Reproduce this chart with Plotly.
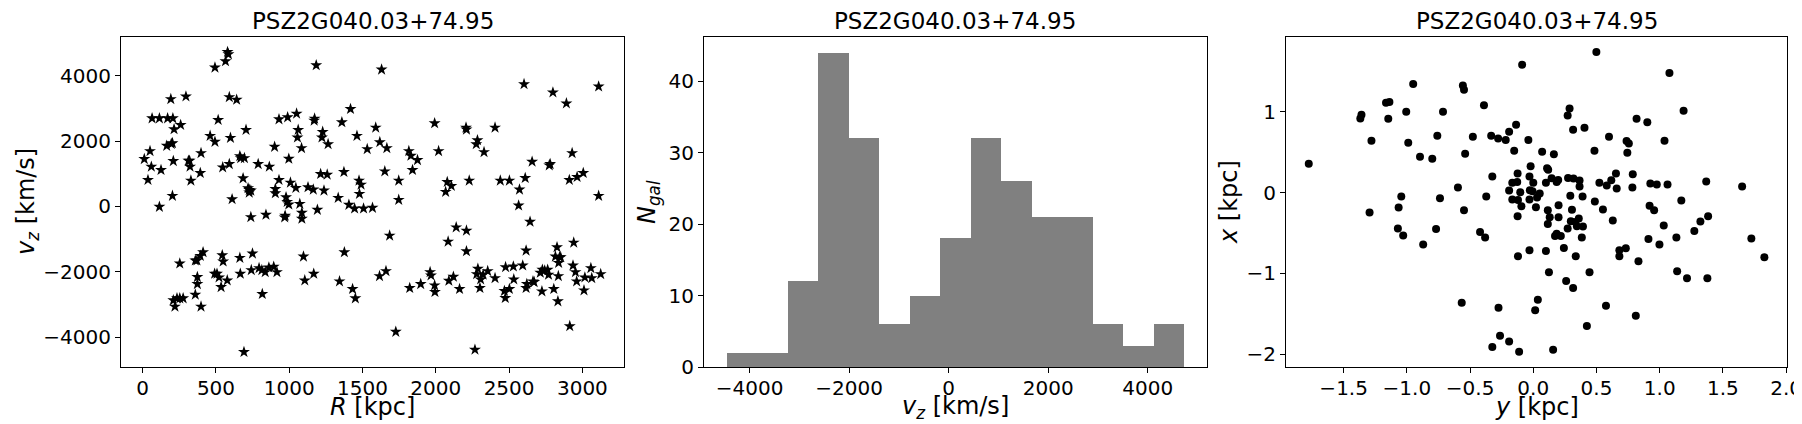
import plotly.graph_objects as go

# panel 1: radial distance vs line-of-sight velocity
R_kpc = [
    11, 36, 50, 59, 64, 114, 114, 125, 164, 170,
    192, 195, 203, 203, 206, 209, 214, 209, 220, 234,
    253, 253, 259, 276, 295, 312, 320, 323, 329, 359,
    359, 370, 373, 373, 393, 398, 393, 398, 412, 460,
    491, 493, 493, 507, 515, 521, 535, 543, 546, 549,
    565, 577, 579, 585, 591, 591, 599, 610, 641, 663,
    663, 666, 669, 685, 694, 691, 705, 719, 727, 727,
    738, 738, 749, 741, 788, 794, 813, 816, 836, 841,
    864, 861, 894, 900, 905, 905, 916, 930, 930, 969,
    972, 978, 986, 989, 997, 997, 1008, 1045, 1050, 1056,
    1061, 1072, 1084, 1086, 1086, 1097, 1106, 1128, 1164, 1167,
    1170, 1173, 1184, 1192, 1214, 1223, 1228, 1237, 1259, 1265,
    1334, 1343, 1359, 1373, 1376, 1407, 1418, 1432, 1446, 1451,
    1462, 1476, 1479, 1490, 1507, 1532, 1568, 1590, 1616, 1618,
    1630, 1652, 1660, 1666, 1685, 1727, 1747, 1747, 1816, 1822,
    1830, 1841, 1875, 1897, 1961, 1967, 1992, 1992, 1994, 2019,
    2067, 2078, 2084, 2089, 2106, 2120, 2139, 2162, 2206, 2209,
    2209, 2209, 2228, 2267, 2276, 2279, 2284, 2287, 2301, 2306,
    2323, 2329, 2354, 2404, 2404, 2440, 2468, 2476, 2474, 2502,
    2502, 2529, 2532, 2571, 2565, 2593, 2602, 2610, 2616, 2616,
    2621, 2643, 2657, 2663, 2671, 2713, 2724, 2727, 2743, 2763,
    2769, 2774, 2780, 2799, 2805, 2816, 2827, 2833, 2836, 2844,
    2838, 2852, 2891, 2911, 2914, 2930, 2936, 2941, 2953, 2961,
    2964, 3006, 3011, 3017, 3058, 3064, 3111, 3111, 3125,
]
vz_kms = [
    1452, 812, 1695, 1218, 2700, 2700, -10, 1117, 1858, 2700,
    3289, 1919, 1939, 325, 2700, 1391, 2365, -2873, -3066, -2812,
    -1746, -2812, 2497, -2812, 3370, 1401, 1401, 1218, 792, -1655,
    -2700, -1655, -2162, -2376, -1513, 1634, 1025, -3066, -1401, 2162,
    -2061, 4254, 1980, -2061, 2650, -2173, -2467, -1492, 1198, -1685,
    4447, -2264, 4731, 4660, 3350, 1299, 2101, 223, 3269, 1543,
    -1574, -2061, 1482, 863, 1482, -4457, 2345, 558, 508, 426,
    487, -325, -1442, -1949, 1299, -1888, -1949, -2680, -2010, -254,
    1218, -1868, -1848, 1827, 538, 406, -2010, 812, 2670, -335,
    -284, 284, 142, 2731, 1462, 61, 731, 569, 2843, 2112,
    2345, 81, 1787, -193, -376, -1533, -2264, 589, 518, -2061,
    2629, 2690, 4325, -102, 995, 2112, 2284, 487, 975, 1909,
    264, -2294, 2579, 1056, -1401, 51, 2985, -2528, -61, -2812,
    2162, 792, 386, 670, -61, 1756, -41, 2416, -2132, 1970,
    4193, 1076, -1980, 1787, -893, -3838, 792, 203, 1695, -2497,
    1553, 1117, 1421, -2376, -2010, -2112, 2548, -2416, -2619, 1695,
    447, 751, -1076, -2274, 629, -2152, -640, -2528, 2416, 2355,
    -741, -1371, 792, -4386, 1909, -2071, 2030, -1909, -2497, -2233,
    -2091, 1665, -1980, 2416, -2193, 792, -2589, -1858, -2802, 792,
    -2528, -1838, -2233, 518, 30, -1807, 3746, 873, -1350, -2497,
    -2376, -467, 1371, -2294, -2315, -2030, -2599, -1939, -1959, -1939,
    -2091, 1259, 1299, 3492, -2528, -1533, -1249, -2904, -2132, -1553,
    -1726, -1553, 3157, 812, -3665, 1634, -1807, -1107, -2010, -2294,
    903, 1025, -2568, -2173, -1888, -2193, 3675, 325, -2071,
]

# panel 2: histogram of v_z (15 bins)
bin_edges = [-4457, -3844, -3232, -2619, -2007, -1394, -782, -169,
             443, 1056, 1668, 2281, 2893, 3506, 4118, 4731]
n_gal = [2, 2, 12, 44, 32, 6, 10, 18, 32, 26, 21, 21, 6, 3, 6]

# panel 3: projected positions
y_kpc = [
    -1.776, -1.368, -1.359, -1.280, -1.295, -1.165, -1.138, -1.147, -1.065, -1.044,
    -1.071, -1.029, -1.005, -0.989, -0.950, -0.896, -0.871, -0.799, -0.759, -0.769,
    -0.738, -0.714, -0.596, -0.566, -0.557, -0.548, -0.539, -0.548, -0.478, -0.421,
    -0.390, -0.381, -0.372, -0.333, -0.324, -0.324, -0.278, -0.275, -0.263, -0.218,
    -0.191, -0.191, -0.191, -0.166, -0.166, -0.151, -0.136, -0.127, -0.124, -0.124,
    -0.121, -0.121, -0.112, -0.103, -0.094, -0.088, -0.039, -0.030, -0.030, -0.027,
    -0.030, -0.021, 0.000, -0.006, 0.015, 0.021, 0.030, 0.036, 0.051, 0.070,
    0.100, 0.100, 0.109, 0.118, 0.115, 0.115, 0.124, 0.130, 0.145, 0.157,
    0.163, 0.172, 0.185, 0.185, 0.197, 0.200, 0.200, 0.218, 0.242, 0.260,
    0.272, 0.272, 0.275, 0.287, 0.293, 0.297, 0.306, 0.315, 0.315, 0.318,
    0.333, 0.336, 0.345, 0.360, 0.366, 0.366, 0.384, 0.390, 0.393, 0.405,
    0.424, 0.445, 0.484, 0.487, 0.499, 0.523, 0.551, 0.575, 0.581, 0.599,
    0.617, 0.629, 0.654, 0.660, 0.681, 0.681, 0.732, 0.738, 0.744, 0.756,
    0.784, 0.787, 0.811, 0.817, 0.832, 0.902, 0.911, 0.920, 0.926, 0.956,
    0.977, 0.998, 1.032, 1.038, 1.062, 1.077, 1.132, 1.138, 1.171, 1.189,
    1.216, 1.274, 1.322, 1.368, 1.383, 1.377, 1.652, 1.725, 1.828,
]
x_kpc = [
    0.358, 0.918, 0.963, 0.642, -0.247, 1.111, 1.123, 0.914, -0.185, -0.049,
    -0.444, -0.531, 1.000, 0.617, 1.346, 0.444, -0.642, 0.420, 0.704, -0.453,
    -0.070, 1.000, 0.062, -1.366, 1.325, 1.272, 0.481, -0.218, 0.691, -0.490,
    1.082, -0.556, -0.049, 0.704, 0.198, -1.914, 0.671, -1.428, -1.774, 0.650,
    0.753, -1.844, 0.025, 0.123, -0.086, 0.519, 0.840, 0.132, 0.235, -0.292,
    -0.790, -0.091, -1.971, 0.004, -0.169, 1.584, 0.650, 0.198, -0.086, 0.029,
    -0.716, 0.325, 0.123, 0.016, -1.457, -0.181, -0.062, -1.329, -0.012, 0.506,
    0.123, -0.724, 0.300, 0.284, -0.218, -0.391, -0.988, -0.305, 0.177, -1.947,
    0.473, -0.539, 0.132, -0.510, 0.156, -0.156, -0.305, -0.539, -0.687, -1.095,
    -0.444, 0.955, 0.181, 1.041, -0.041, -0.354, -0.214, 0.778, -1.181, 0.173,
    -0.366, -0.790, -0.416, -0.321, 0.148, 0.074, -0.556, -0.049, -0.420, 0.802,
    -1.654, -0.988, 0.519, -0.111, 1.741, 0.123, -0.210, -1.403, 0.086, 0.691,
    0.152, -0.346, 0.235, 0.049, -0.716, -0.790, -0.691, 0.638, 0.494, 0.609,
    0.062, 0.226, -1.527, 0.914, -0.852, 0.872, -0.576, -0.165, 0.111, -0.218,
    0.099, -0.642, -0.407, 0.642, 0.099, 1.481, -0.556, -0.975, -0.099, 1.012,
    -1.062, -0.477, -0.358, 0.136, -0.292, -1.062, 0.074, -0.568, -0.802,
]

cluster_name = "PSZ2G040.03+74.95"
x_labels = ["<i>R</i> [kpc]", "<i>v</i><sub><i>z</i></sub> [km/s]", "<i>y</i> [kpc]"]
y_labels = ["<i>v</i><sub><i>z</i></sub> [km/s]", "<i>N</i><sub><i>gal</i></sub>", "<i>x</i> [kpc]"]

bin_centers = [(a + b) / 2 for a, b in zip(bin_edges[:-1], bin_edges[1:])]
bin_widths = [b - a for a, b in zip(bin_edges[:-1], bin_edges[1:])]

FONT = "DejaVu Sans"
TICK_SIZE = 20
LABEL_SIZE = 24
TITLE_SIZE = 23
W, H = 1802, 424

fig = go.Figure()

fig.add_trace(go.Scatter(
    x=R_kpc, y=vz_kms, mode="markers",
    marker=dict(symbol="star", size=9, color="black", line=dict(width=0)),
    xaxis="x", yaxis="y", showlegend=False,
))

fig.add_trace(go.Bar(
    x=bin_centers, y=n_gal, width=bin_widths,
    marker=dict(color="#808080", line=dict(width=0)),
    xaxis="x2", yaxis="y2", showlegend=False,
))

fig.add_trace(go.Scatter(
    x=y_kpc, y=x_kpc, mode="markers",
    marker=dict(symbol="circle", size=8, color="black", line=dict(width=0)),
    xaxis="x3", yaxis="y3", showlegend=False,
))

axis_style = dict(
    showgrid=False, zeroline=False,
    showline=True, linecolor="black", linewidth=1, mirror=True,
    ticks="outside", ticklen=5, tickwidth=1, tickcolor="black",
    tickfont=dict(family=FONT, size=TICK_SIZE, color="black"),
    automargin=False,
)
x_style = dict(axis_style, ticklabelstandoff=-2)
y_style = dict(axis_style, ticklabelstandoff=0)


def px_x(p):
    return p / W


def px_y(p):
    return 1 - p / H


# frame boxes in pixels of the page
frame_top, frame_bottom = 29, 359
frames_x = [(113, 616), (696, 1199), (1278, 1779)]
ylabel_x = [20, 641, 1221]

y_dom = [px_y(frame_bottom), px_y(frame_top)]
doms = [[px_x(a), px_x(b)] for a, b in frames_x]

fig.update_layout(
    width=W, height=H,
    margin=dict(l=0, r=0, t=0, b=0),
    paper_bgcolor="white", plot_bgcolor="white",
    bargap=0,
    xaxis=dict(x_style, domain=doms[0], anchor="y", range=[-148, 3284],
               tickvals=[0, 500, 1000, 1500, 2000, 2500, 3000]),
    yaxis=dict(y_style, domain=y_dom, anchor="x", range=[-4916, 5190],
               tickvals=[-4000, -2000, 0, 2000, 4000]),
    xaxis2=dict(x_style, domain=doms[1], anchor="y2", range=[-4916, 5190],
                tickvals=[-4000, -2000, 0, 2000, 4000]),
    yaxis2=dict(y_style, domain=y_dom, anchor="x2", range=[0, 46.2],
                tickvals=[0, 10, 20, 30, 40]),
    xaxis3=dict(x_style, domain=doms[2], anchor="y3", range=[-1.956, 2.007],
                tickvals=[-1.5, -1.0, -0.5, 0.0, 0.5, 1.0, 1.5, 2.0], tickformat=".1f"),
    yaxis3=dict(y_style, domain=y_dom, anchor="x3", range=[-2.161, 1.927],
                tickvals=[-2, -1, 0, 1]),
)

mid_y = px_y((frame_top + frame_bottom) / 2)
for (fx0, fx1), xl, yl, ylx in zip(frames_x, x_labels, y_labels, ylabel_x):
    cx = px_x((fx0 + fx1) / 2)
    # panel title
    fig.add_annotation(
        text=cluster_name, xref="paper", yref="paper",
        x=cx, y=px_y(13), xanchor="center", yanchor="middle", showarrow=False,
        font=dict(family=FONT, size=TITLE_SIZE, color="black"),
    )
    # x axis label
    fig.add_annotation(
        text=xl, xref="paper", yref="paper",
        x=cx, y=px_y(399), xanchor="center", yanchor="middle", showarrow=False,
        font=dict(family=FONT, size=LABEL_SIZE, color="black"),
    )
    # y axis label
    fig.add_annotation(
        text=yl, xref="paper", yref="paper", textangle=-90,
        x=px_x(ylx), y=mid_y, xanchor="center", yanchor="middle", showarrow=False,
        font=dict(family=FONT, size=LABEL_SIZE, color="black"),
    )

fig.write_html("out.html")
